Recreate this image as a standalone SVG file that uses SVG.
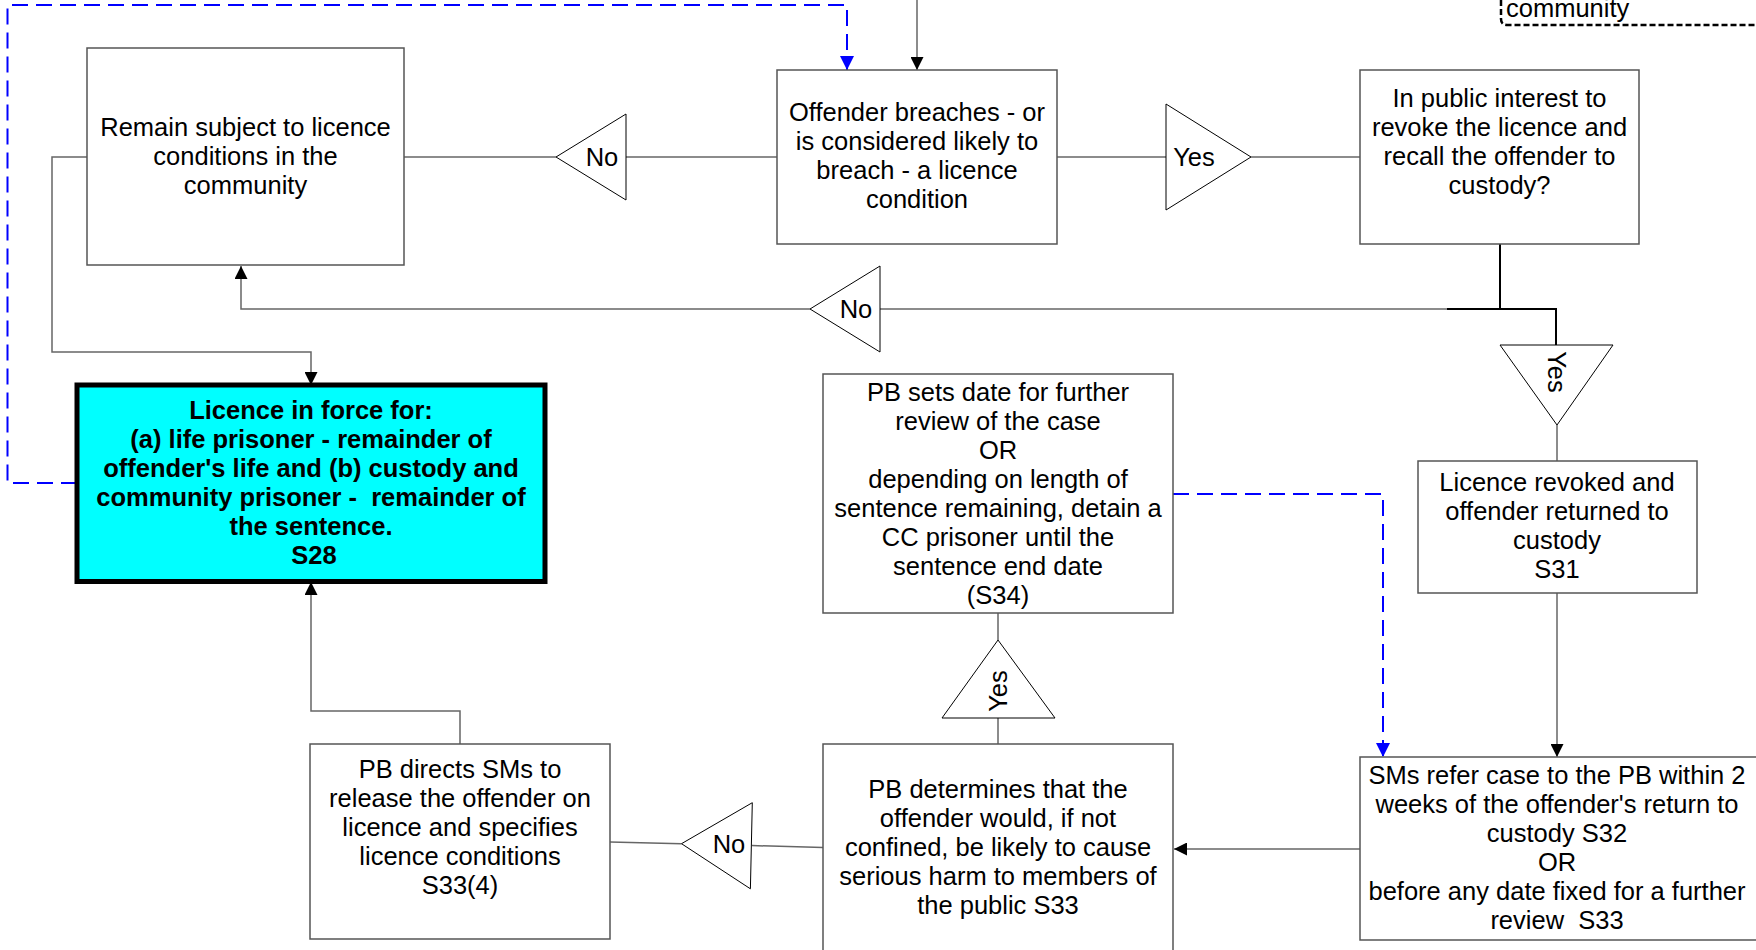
<svg xmlns="http://www.w3.org/2000/svg" width="1756" height="950" viewBox="0 0 1756 950">
<style>
text{font-family:"Liberation Sans",Arial,sans-serif;font-size:25.5px;fill:#000;text-anchor:middle}
.box{fill:#fff;stroke:#555;stroke-width:1.5}
.tri{fill:#fff;stroke:#000;stroke-width:1}
.c{fill:none;stroke:#666;stroke-width:1.5}
.k{fill:none;stroke:#000;stroke-width:2}
.b{fill:none;stroke:#0000ff;stroke-width:2;stroke-dasharray:16 8}
.bold{font-weight:bold}
</style>
<defs>
<marker id="ah" viewBox="0 0 13 13" refX="13" refY="6.5" markerWidth="13" markerHeight="13" markerUnits="userSpaceOnUse" orient="auto"><path d="M0,0 L13,6.5 L0,13 z" fill="#000"/></marker>
<marker id="bh" viewBox="0 0 14 14" refX="14" refY="7" markerWidth="14" markerHeight="14" markerUnits="userSpaceOnUse" orient="auto"><path d="M0,0 L14,7 L0,14 z" fill="#0000ff"/></marker>
</defs>
<rect width="1756" height="950" fill="#fff"/>

<g id="connectors">
<path class="c" d="M404,157 H556"/>
<path class="c" d="M626,157 H777"/>
<path class="c" d="M1057,157 H1166"/>
<path class="c" d="M1251,157 H1360"/>
<path class="c" d="M917,0 V70" marker-end="url(#ah)"/>
<path class="b" d="M77,483 H7.5 V5 H847 V70" marker-end="url(#bh)"/>
<path class="k" d="M1500,244 V309"/>
<path class="k" d="M1447,309 H1556 V345"/>
<path class="c" d="M880,309 H1447"/>
<path class="c" d="M810,309 H241 V266" marker-end="url(#ah)"/>
<path class="c" d="M1557,425 V461"/>
<path class="c" d="M1557,593 V757" marker-end="url(#ah)"/>
<path class="c" d="M1360,849 H1174" marker-end="url(#ah)"/>
<path class="c" d="M823,847.5 L752,845.6"/>
<path class="c" d="M681.5,843.7 L610,842"/>
<path class="c" d="M460,744 V711 H311 V582" marker-end="url(#ah)"/>
<path class="c" d="M87,157 H52 V352 H311 V385" marker-end="url(#ah)"/>
<path class="c" d="M998,613 V640"/>
<path class="c" d="M998,718 V744"/>
<path class="b" d="M1173,494 H1383 V757" marker-end="url(#bh)"/>
</g>

<g id="community-note">
<path d="M1501,0 V19 Q1501,25 1507,25 H1756" fill="none" stroke="#000" stroke-width="2.5" stroke-dasharray="6 3"/>
<text x="1506" y="17" style="text-anchor:start">community</text>
</g>

<g id="remain">
<rect class="box" x="87" y="48" width="317" height="217"/>
<text x="245.5" y="135.5">Remain subject to licence</text>
<text x="245.5" y="164.5">conditions in the</text>
<text x="245.5" y="193.5">community</text>
</g>

<g id="no-top">
<polygon class="tri" points="556,157 626,114 626,200"/>
<text x="602" y="166">No</text>
</g>

<g id="offender-breaches">
<rect class="box" x="777" y="70" width="280" height="174"/>
<text x="917" y="121">Offender breaches - or</text>
<text x="917" y="150">is considered likely to</text>
<text x="917" y="179">breach - a licence</text>
<text x="917" y="208">condition</text>
</g>

<g id="yes-top">
<polygon class="tri" points="1166,104 1251,157 1166,210"/>
<text x="1194" y="166">Yes</text>
</g>

<g id="public-interest">
<rect class="box" x="1360" y="70" width="279" height="174"/>
<text x="1499.5" y="107">In public interest to</text>
<text x="1499.5" y="136">revoke the licence and</text>
<text x="1499.5" y="165">recall the offender to</text>
<text x="1499.5" y="194">custody?</text>
</g>

<g id="no-middle">
<polygon class="tri" points="810,309 880,266 880,352"/>
<text x="856" y="318">No</text>
</g>

<g id="yes-right">
<polygon class="tri" points="1500,345 1613,345 1557,425"/>
<text transform="translate(1557,372) rotate(90)" x="0" y="9">Yes</text>
</g>

<g id="licence-in-force">
<rect x="77" y="385" width="468" height="196.5" fill="#00ffff" stroke="#000" stroke-width="5"/>
<text class="bold" x="311" y="419">Licence in force for:</text>
<text class="bold" x="311" y="448">(a) life prisoner - remainder of</text>
<text class="bold" x="311" y="477">offender's life and (b) custody and</text>
<text class="bold" x="311" y="506" style="white-space:pre">community prisoner -  remainder of</text>
<text class="bold" x="311" y="535">the sentence.</text>
<text class="bold" x="314" y="564">S28</text>
</g>

<g id="pb-sets-date">
<rect class="box" x="823" y="374" width="350" height="239"/>
<text x="998" y="401">PB sets date for further</text>
<text x="998" y="430">review of the case</text>
<text x="998" y="459">OR</text>
<text x="998" y="488">depending on length of</text>
<text x="998" y="517">sentence remaining, detain a</text>
<text x="998" y="546">CC prisoner until the</text>
<text x="998" y="575">sentence end date</text>
<text x="998" y="604">(S34)</text>
</g>

<g id="licence-revoked">
<rect class="box" x="1418" y="461" width="279" height="132"/>
<text x="1557" y="491">Licence revoked and</text>
<text x="1557" y="520">offender returned to</text>
<text x="1557" y="549">custody</text>
<text x="1557" y="578">S31</text>
</g>

<g id="yes-middle">
<polygon class="tri" points="998,640 1055,718 942,718"/>
<text transform="translate(998,691) rotate(-90)" x="0" y="9">Yes</text>
</g>

<g id="pb-directs">
<rect class="box" x="310" y="744" width="300" height="195"/>
<text x="460" y="778">PB directs SMs to</text>
<text x="460" y="807">release the offender on</text>
<text x="460" y="836">licence and specifies</text>
<text x="460" y="865">licence conditions</text>
<text x="460" y="894">S33(4)</text>
</g>

<g id="no-bottom">
<polygon class="tri" points="681.5,843.7 752.3,802.7 750.4,888.8"/>
<text x="729" y="853">No</text>
</g>

<g id="pb-determines">
<rect class="box" x="823" y="744" width="350" height="230"/>
<text x="998" y="798">PB determines that the</text>
<text x="998" y="827">offender would, if not</text>
<text x="998" y="856">confined, be likely to cause</text>
<text x="998" y="885">serious harm to members of</text>
<text x="998" y="914">the public S33</text>
</g>

<g id="sms-refer">
<rect class="box" x="1360" y="757" width="420" height="183"/>
<text x="1557" y="784">SMs refer case to the PB within 2</text>
<text x="1557" y="813">weeks of the offender's return to</text>
<text x="1557" y="842">custody S32</text>
<text x="1557" y="871">OR</text>
<text x="1557" y="900">before any date fixed for a further</text>
<text x="1557" y="929" style="white-space:pre">review  S33</text>
</g>
</svg>
